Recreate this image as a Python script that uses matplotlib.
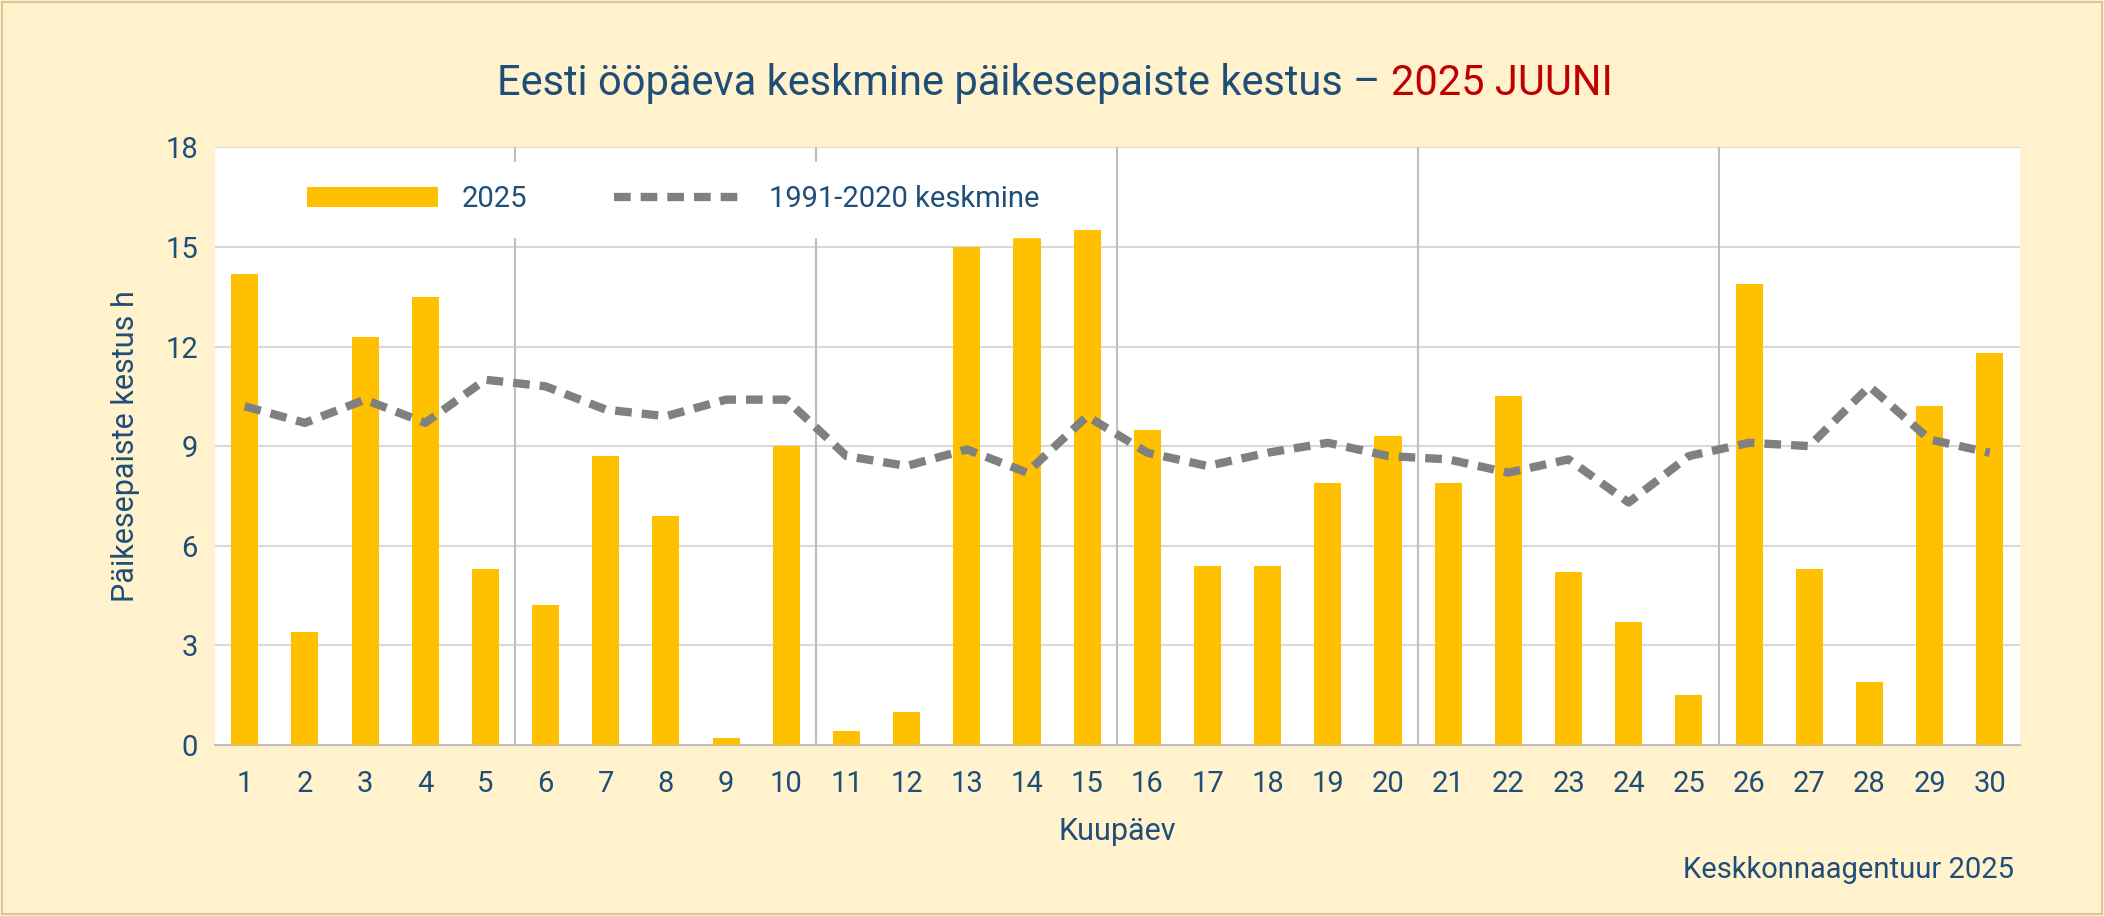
"""Eesti ööpäeva keskmine päikesepaiste kestus, juuni 2025."""

import matplotlib

matplotlib.use("Agg")
import matplotlib.pyplot as plt
from matplotlib.patches import Rectangle

DAYS = list(range(1, 31))
SUN_2025 = [14.2, 3.4, 12.3, 13.5, 5.3, 4.2, 8.7, 6.9, 0.2, 9.0,
            0.4, 1.0, 15.0, 15.6, 15.5, 9.5, 5.4, 5.4, 7.9, 9.3,
            7.9, 10.5, 5.2, 3.7, 1.5, 13.9, 5.3, 1.9, 10.2, 11.8]
NORM_1991_2020 = [10.2, 9.7, 10.4, 9.7, 11.0, 10.8, 10.1, 9.9, 10.4, 10.4,
                  8.7, 8.4, 8.9, 8.2, 9.9, 8.8, 8.4, 8.8, 9.1, 8.7,
                  8.6, 8.2, 8.6, 7.3, 8.7, 9.1, 9.0, 10.8, 9.2, 8.8]
Y_TICKS = [0, 3, 6, 9, 12, 15, 18]

TEXT = "#1F4E79"
plt.rcParams["font.family"] = "Roboto"

fig = plt.figure(figsize=(21.04, 9.16), dpi=100)
fig.patch.set_facecolor("#FFF2CC")
fig.patches.append(Rectangle((0.001, 0.002), 0.998, 0.996, transform=fig.transFigure,
                             fill=False, edgecolor="#D9C89A", linewidth=1.5))
ax = fig.add_axes([0.102, 0.187, 0.858, 0.652])

for sep in (5.5, 10.5, 15.5, 20.5, 25.5):
    ax.axvline(sep, color="#BFBFBF", linewidth=1.5, zorder=1)
bars = ax.bar(DAYS, SUN_2025, width=0.45, color="#FFC000", zorder=3, label="2025")
line, = ax.plot(DAYS, NORM_1991_2020, color="#808080", linewidth=6,
                linestyle=(0, (2, 1.2)), zorder=4, label="1991-2020 keskmine")

ax.set_xlim(0.5, 30.5)
ax.set_ylim(0, 18)
ax.set_yticks(Y_TICKS)
ax.set_xticks(DAYS)
ax.yaxis.grid(True, color="#D9D9D9", linewidth=1.5, zorder=0)
ax.set_axisbelow(True)
for side in ("top", "right", "left"):
    ax.spines[side].set_visible(False)
ax.spines["bottom"].set_color("#BFBFBF")
ax.spines["bottom"].set_linewidth(1.5)
ax.tick_params(length=0, labelsize=21, labelcolor=TEXT, pad=18)
ax.tick_params(axis="y", pad=12)

ax.set_xlabel("Kuupäev", fontsize=22, color=TEXT, labelpad=14)
ax.set_ylabel("Päikesepaiste kestus h", fontsize=22, color=TEXT, labelpad=18)

leg = ax.legend([bars, line], ["2025", "1991-2020 keskmine"], loc="upper left", ncol=2,
                fontsize=21, frameon=True, framealpha=1, edgecolor="white",
                facecolor="white", handlelength=4.5, columnspacing=3,
                bbox_to_anchor=(0.03, 1.0), borderpad=0.8)
leg.set_zorder(5)
for t in leg.get_texts():
    t.set_color(TEXT)

fig.text(0.661, 0.909, "Eesti ööpäeva keskmine päikesepaiste kestus – ", fontsize=30,
         color=TEXT, ha="right", va="center")
fig.text(0.661, 0.909, "2025 JUUNI", fontsize=30, color="#C00000", ha="left", va="center")
fig.text(0.957, 0.042, "Keskkonnaagentuur 2025", fontsize=21, color=TEXT, ha="right")

fig.savefig("out.png", dpi=100, facecolor=fig.get_facecolor())
